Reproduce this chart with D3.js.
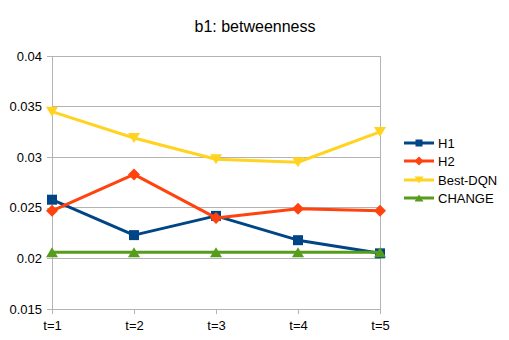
<!DOCTYPE html>
<html><head><meta charset="utf-8">
<script src="https://cdn.jsdelivr.net/npm/d3@7"></script>
<style>body{margin:0;background:#fff}svg{display:block}</style>
</head><body>
<script>
const categories = ["t=1","t=2","t=3","t=4","t=5"];
const h1 = [0.0258,0.0223,0.0242,0.0218,0.0205];
const h2 = [0.0247,0.0283,0.0240,0.0249,0.0247];
const bestDqn = [0.0345,0.0319,0.0298,0.0295,0.0325];
const change = [0.0206,0.0206,0.0206,0.0206,0.0206];
const yTicks = [0.015,0.02,0.025,0.03,0.035,0.04];
const seriesNames = ["H1","H2","Best-DQN","CHANGE"];

const series = [
  {name:seriesNames[0], values:h1, color:"#004586", sym:"square"},
  {name:seriesNames[1], values:h2, color:"#ff420e", sym:"diamond"},
  {name:seriesNames[2], values:bestDqn, color:"#ffd320", sym:"tdown"},
  {name:seriesNames[3], values:change, color:"#579d1c", sym:"tup"}
];

const W=509,H=340;
const svg=d3.select("body").append("svg").attr("width",W).attr("height",H);
const font="'Liberation Sans', Arial, sans-serif";
const x=d3.scalePoint().domain(categories).range([52,380]);
const y=d3.scaleLinear().domain([0.015,0.04]).range([309,56]);

// gridlines
svg.append("g").selectAll("line").data(yTicks).join("line")
  .attr("x1",52).attr("x2",380).attr("y1",d=>y(d)).attr("y2",d=>y(d))
  .attr("stroke","#b3b3b3").attr("stroke-width",1).attr("shape-rendering","crispEdges");
svg.append("line").attr("x1",380).attr("x2",380).attr("y1",y(0.04)).attr("y2",y(0.015))
  .attr("stroke","#b3b3b3").attr("shape-rendering","crispEdges");

// axes
const fmt=d=>String(+d.toFixed(3));
const ya=svg.append("g").attr("transform","translate(52,0)")
  .call(d3.axisLeft(y).tickValues(yTicks).tickFormat(fmt).tickSize(5).tickPadding(5));
const xa=svg.append("g").attr("transform","translate(0,309)")
  .call(d3.axisBottom(x).tickSize(5).tickPadding(7));
[ya,xa].forEach(a=>{
  a.select(".domain").attr("stroke","#b3b3b3").attr("shape-rendering","crispEdges");
  a.selectAll(".tick line").attr("stroke","#b3b3b3").attr("shape-rendering","crispEdges");
  a.selectAll("text").attr("font-family",font).attr("font-size",13).attr("fill","#000");
});
xa.select(".domain").attr("d","M52,0H380");

// title
svg.append("text").attr("x",255).attr("y",32).attr("text-anchor","middle")
  .attr("font-family",font).attr("font-size",16).attr("fill","#000").text("b1: betweenness");

function marker(g,sym,cx,cy,color,s){
  let p;
  if(sym==="square") p=`M${cx-s},${cy-s}h${2*s}v${2*s}h${-2*s}Z`;
  else if(sym==="diamond") p=`M${cx},${cy-s-1}L${cx+s+1},${cy}L${cx},${cy+s+1}L${cx-s-1},${cy}Z`;
  else if(sym==="tdown") p=`M${cx-s-1},${cy-s}L${cx+s+1},${cy-s}L${cx},${cy+s}Z`;
  else p=`M${cx-s-1},${cy+s}L${cx+s+1},${cy+s}L${cx},${cy-s}Z`;
  g.append("path").attr("d",p).attr("fill",color);
}

const line=d3.line().x((d,i)=>x(categories[i])).y(d=>y(d));
series.forEach(s=>{
  const g=svg.append("g");
  g.append("path").datum(s.values).attr("d",line).attr("fill","none")
    .attr("stroke",s.color).attr("stroke-width",3).attr("stroke-linejoin","round");
  s.values.forEach((v,i)=>marker(g,s.sym,x(categories[i]),y(v),s.color,5));
});

// legend
const ly=[143,161,180,198];
series.forEach((s,i)=>{
  const g=svg.append("g");
  g.append("line").attr("x1",404).attr("x2",434).attr("y1",ly[i]).attr("y2",ly[i])
    .attr("stroke",s.color).attr("stroke-width",3);
  marker(g,s.sym,419,ly[i],s.color,3.5);
  g.append("text").attr("x",438).attr("y",ly[i]+5).attr("font-family",font)
    .attr("font-size",13).attr("fill","#000").text(s.name);
});
</script>
</body></html>
